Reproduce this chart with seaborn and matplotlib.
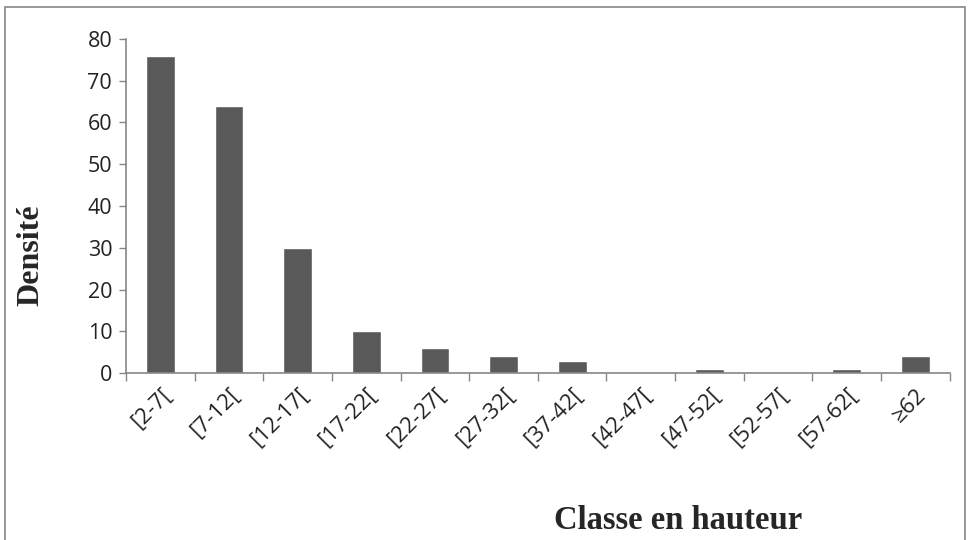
import numpy as np
import pandas as pd
import matplotlib.pyplot as plt
from matplotlib.patches import Rectangle
import seaborn as sns

# Classes de hauteur et densités
classes = ['[2-7[', '[7-12[', '[12-17[', '[17-22[', '[22-27[', '[27-32[',
           '[37-42[', '[42-47[', '[47-52[', '[52-57[', '[57-62[', '≥62']
densite = [76, 64, 30, 10, 6, 4, 3, 0, 1, 0, 1, 4]
yticks = [0, 10, 20, 30, 40, 50, 60, 70, 80]

df = pd.DataFrame({'classe': classes, 'densite': densite})

sns.set_style('white')
plt.rcParams['font.family'] = ['Open Sans', 'DejaVu Sans']

fig = plt.figure(figsize=(9.7, 5.4), dpi=100)
ax = fig.add_axes([0.13, 0.309, 0.849, 0.619])

sns.barplot(data=df, x='classe', y='densite', color='#595959',
            saturation=1, width=0.42, ax=ax)

ax.set_ylim(0, 80)
ax.set_xlim(-0.5, len(classes) - 0.5)
ax.set_yticks(yticks)
ax.tick_params(axis='y', labelsize=15.5, length=5, width=1, color='#868686',
               direction='out', left=True, labelcolor='#222222', pad=5)

# étiquettes au centre des barres, traits aux limites des classes
ax.set_xticks(range(len(classes)))
ax.set_xticklabels(classes, rotation=45, ha='right', rotation_mode='anchor',
                   fontsize=16, color='#222222')
ax.tick_params(axis='x', which='major', length=0, pad=8)
ax.set_xticks(np.arange(-0.5, len(classes), 1), minor=True)
ax.tick_params(axis='x', which='minor', length=6, width=1, color='#868686',
               direction='out', bottom=True)

for s in ['top', 'right']:
    ax.spines[s].set_visible(False)
for s in ['left', 'bottom']:
    ax.spines[s].set_color('#868686')
    ax.spines[s].set_linewidth(1.2)

ax.set_ylabel('Densité', fontsize=23, fontweight='bold',
              family=['Liberation Serif'])
ax.yaxis.set_label_coords(-0.098, 0.353)
ax.set_xlabel('Classe en hauteur', fontsize=23.5, fontweight='bold',
              family=['Liberation Serif'])
ax.xaxis.set_label_coords(0.67, -0.395)

# cadre autour du graphique
fig.patches.append(Rectangle((5 / 970, -0.01), 960 / 970, 1.01 - 7 / 540,
                             transform=fig.transFigure, fill=False,
                             edgecolor='#868686', linewidth=1.2))

plt.savefig('out.png', dpi=100)
